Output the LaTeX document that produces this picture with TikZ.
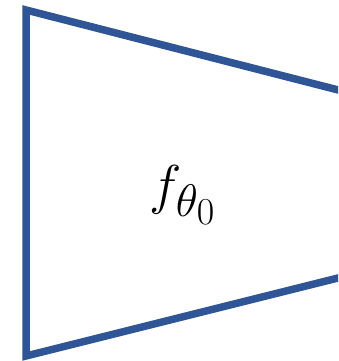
\documentclass[tikz,border=0pt]{standalone}
\usepackage{amsmath}
\definecolor{encblue}{RGB}{47,85,151}

\begin{document}
\begin{tikzpicture}[x=1pt, y=1pt]
        \useasboundingbox (0,0) rectangle (338,361);
        \clip (0,0) rectangle (338,361);

        % encoder trapezoid, open at the right
        \coordinate (tr) at (350,268);
        \coordinate (tl) at (26,351);
        \coordinate (bl) at (26,5);
        \coordinate (br) at (350,86);
        \draw[encblue, line width=7.5pt, miter limit=10] (tr) -- (tl) -- (bl) -- (br);

        \node[font=\Huge, scale=2.2] (enc) at (183,166) {$f_{\theta_0}$};
    \end{tikzpicture}
\end{document}
